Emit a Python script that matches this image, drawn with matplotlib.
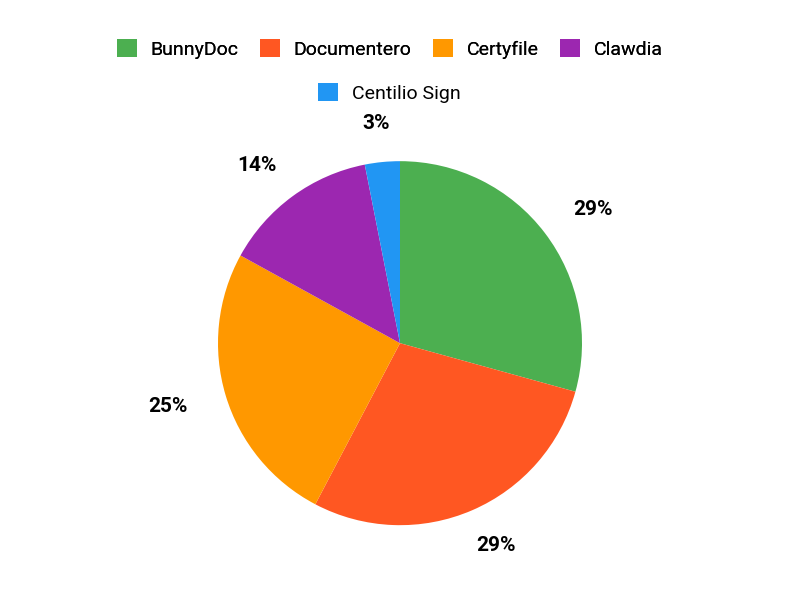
import numpy as np
import matplotlib.pyplot as plt
from matplotlib.patches import Patch

plt.rcParams['font.family'] = ['Roboto', 'DejaVu Sans']

# values
names = ["BunnyDoc", "Documentero", "Certyfile", "Clawdia", "Centilio Sign"]
shares = [29.3, 28.4, 25.3, 13.9, 3.1]
colors = ["#4CAF50", "#FF5722", "#FF9800", "#9C27B0", "#2196F3"]


def round_to_100(vals):
    # largest remainder rounding so the labels add up to 100
    pct = np.array(vals) / sum(vals) * 100
    base = np.floor(pct).astype(int)
    rest = 100 - base.sum()
    order = np.argsort(-(pct - base))
    base[order[:rest]] += 1
    return base


fig = plt.figure(figsize=(8, 6), dpi=100)
ax = fig.add_axes([0.5 - 0.2275, 0.428 - 0.3033, 0.455, 0.6067])

wedges, _ = ax.pie(shares, colors=colors, startangle=90, counterclock=False, radius=1)

# labels sit on an ellipse slightly wider than the pie
for w, p in zip(wedges, round_to_100(shares)):
    mid = np.deg2rad((w.theta1 + w.theta2) / 2)
    ax.text(1.33 * np.cos(mid), 1.21 * np.sin(mid), f"{p}%", ha='center', va='center',
            fontsize=15, fontweight='bold', color='black')

ax.set_xlim(-1, 1)
ax.set_ylim(-1, 1)
ax.set_aspect('equal')

handles = [Patch(facecolor=c, edgecolor='none') for c in colors]
leg_kw = dict(loc='center', frameon=False, fontsize=14, handlelength=1.03,
              handleheight=1.03, handletextpad=0.72, columnspacing=1.08)
leg1 = fig.legend(handles[:4], names[:4], bbox_to_anchor=(0.487, 1 - 49 / 600), ncol=4, **leg_kw)
fig.add_artist(leg1)
fig.legend(handles[4:], names[4:], bbox_to_anchor=(0.487, 1 - 93 / 600), ncol=1, **leg_kw)

fig.savefig("out.png")
